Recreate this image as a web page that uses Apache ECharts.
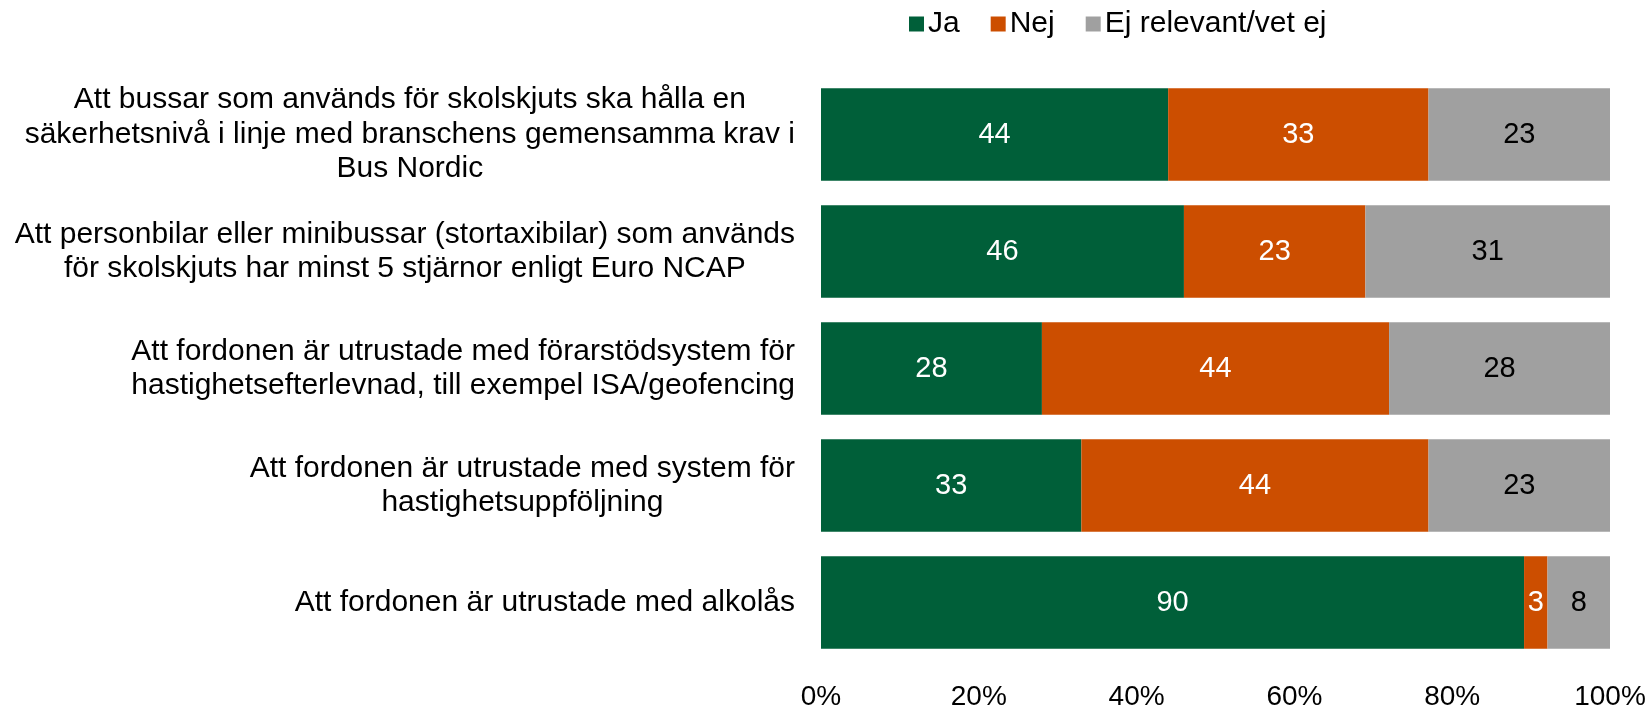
<!DOCTYPE html>
<html><head><meta charset="utf-8">
<script src="https://cdn.jsdelivr.net/npm/echarts@6/dist/echarts.min.js"></script>
<style>html,body{margin:0;padding:0;background:#fff}#c{width:1652px;height:711px}</style>
</head><body><div id="c"></div>
<script>
const categories = [
  'Att bussar som används för skolskjuts ska hålla en\nsäkerhetsnivå i linje med branschens gemensamma krav i\nBus Nordic',
  'Att personbilar eller minibussar (stortaxibilar) som används\nför skolskjuts har minst 5 stjärnor enligt Euro NCAP',
  'Att fordonen är utrustade med förarstödsystem för\nhastighetsefterlevnad, till exempel ISA/geofencing',
  'Att fordonen är utrustade med system för\nhastighetsuppföljning',
  'Att fordonen är utrustade med alkolås'
];
const seriesNames = ['Ja', 'Nej', 'Ej relevant/vet ej'];
const ja = [44, 46, 28, 33, 90];
const nej = [33, 23, 44, 44, 3];
const ejRelevant = [23, 31, 28, 23, 8];
const xTicks = [0, 20, 40, 60, 80, 100];

const raw = [ja, nej, ejRelevant];
const totals = categories.map((_, i) => ja[i] + nej[i] + ejRelevant[i]);
const colors = ['#005F39', '#CC4E00', '#A0A0A0'];
const labelColors = ['#ffffff', '#ffffff', '#000000'];
const FONT = '"Liberation Sans", Arial, sans-serif';

const chart = echarts.init(document.getElementById('c'), null, {renderer: 'canvas'});
chart.setOption({
  animation: false,
  textStyle: {fontFamily: FONT},
  legend: {
    data: seriesNames,
    left: 904, top: 4,
    itemWidth: 15, itemHeight: 15, itemGap: 31,
    icon: 'rect',
    textStyle: {fontSize: 30, color: '#000', fontFamily: FONT, padding: [0,0,0,-1]}
  },
  grid: {left: 821, right: 42, top: 76, bottom: 47, containLabel: false},
  xAxis: {
    type: 'value', min: xTicks[0], max: xTicks[xTicks.length-1], interval: 20,
    axisLine: {show: false}, axisTick: {show: false}, splitLine: {show: false},
    axisLabel: {formatter: '{value}%', fontSize: 28, color: '#000', margin: 22, fontFamily: FONT}
  },
  yAxis: {
    type: 'category', data: categories, inverse: true,
    axisLine: {show: false}, axisTick: {show: false},
    axisLabel: {
      margin: 26, color: '#000',
      formatter: v => v.split('\n').map(l => '{c|' + l + '}').join('\n'),
      rich: {c: {align: 'center', fontSize: 30, lineHeight: 34.5, color: '#000', fontFamily: FONT}}
    }
  },
  series: seriesNames.map((name, s) => ({
    name, type: 'bar', stack: 'total', barCategoryGap: '21%',
    itemStyle: {color: colors[s]},
    label: {
      show: true, position: 'inside', color: labelColors[s], fontSize: 29, fontFamily: FONT,
      formatter: p => String(raw[s][p.dataIndex])
    },
    data: raw[s].map((v, i) => v / totals[i] * 100)
  }))
});
</script></body></html>
